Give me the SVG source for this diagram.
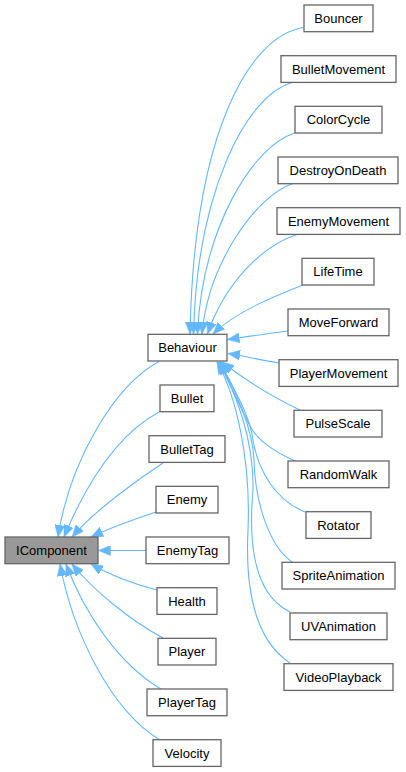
<svg xmlns="http://www.w3.org/2000/svg" width="406" height="772" viewBox="0 0 406 772">
<style>
.n rect{fill:#ffffff;stroke:#666666;stroke-width:1.3}
#IComponent rect{fill:#999999}
.n text{font-family:"Liberation Sans",Arial,Helvetica,sans-serif;font-size:13px;fill:#000000;text-anchor:middle}
.e path{fill:none;stroke:#63b8ff;stroke-width:1.1;marker-end:url(#ah)}
</style>
<defs>
<marker id="ah" markerUnits="userSpaceOnUse" markerWidth="12" markerHeight="10" viewBox="0 0 12 10" refX="12" refY="5" orient="auto">
<path d="M0,0 L12,5 L0,10 z" fill="#63b8ff" stroke="#63b8ff" stroke-width="0.5"/>
</marker>
</defs>
<rect x="0" y="0" width="406" height="772" fill="#ffffff"/>
<g id="edges" class="e">
<path d="M303.5,27.5 C250,36 194,130 190,334"/>
<path d="M292,82.5 C247,95 197,190 193.5,334"/>
<path d="M295,133 C252,146 202,230 197.5,334"/>
<path d="M293,183.5 C255,196 208,265 202,334"/>
<path d="M297,234.5 C262,246 225,283 207.5,334"/>
<path d="M303,285 C275,296 235,312 213,334"/>
<path d="M288,331 C265,334 245,337 227.5,339.5"/>
<path d="M279,363 C260,360 245,356 228,353.5"/>
<path d="M301,410.5 C275,398 245,380 222,362"/>
<path d="M295,461 C275,452 257,440 250,426 C242,410 229,385 221,362"/>
<path d="M305,512 C275,500 258,470 253,440 C250,415 233,388 220,362"/>
<path d="M292,562 C268,545 255,500 254,460 C253,430 236,390 219,362"/>
<path d="M290,612 C255,595 248,545 253,490 C254,440 236,392 218,362"/>
<path d="M290,663 C255,640 245,590 248,530 C251,460 236,395 217,362"/>
<path d="M159,361.5 C115,385 70,460 58,537"/>
<path d="M160,411.5 C125,430 92,470 64,537"/>
<path d="M163,463 C140,478 95,510 72,537"/>
<path d="M156,512 C135,519 110,528 91,537"/>
<path d="M146,550.5 L98.5,550.5"/>
<path d="M157,590 C130,583 108,574 91,564"/>
<path d="M163,638 C130,620 95,592 72,564"/>
<path d="M161,689 C120,665 85,615 66,564"/>
<path d="M160,740 C110,710 72,630 60,564"/>
</g>
<g id="IComponent" class="n"><rect x="5" y="537" width="93" height="26.7"/><text x="51.5" y="554.8">IComponent</text></g>
<g id="Behaviour" class="n"><rect x="148" y="334.3" width="79" height="26.7"/><text x="187.5" y="352.1">Behaviour</text></g>
<g id="Bullet" class="n"><rect x="160" y="385" width="54" height="26.7"/><text x="187" y="402.8">Bullet</text></g>
<g id="BulletTag" class="n"><rect x="149" y="435.7" width="76" height="26.7"/><text x="187" y="453.5">BulletTag</text></g>
<g id="Enemy" class="n"><rect x="156" y="486.3" width="62" height="26.7"/><text x="187" y="504.1">Enemy</text></g>
<g id="EnemyTag" class="n"><rect x="146" y="537" width="83" height="26.7"/><text x="187.5" y="554.8">EnemyTag</text></g>
<g id="Health" class="n"><rect x="157" y="587.7" width="60" height="26.7"/><text x="187" y="605.5">Health</text></g>
<g id="Player" class="n"><rect x="158" y="638.3" width="58" height="26.7"/><text x="187" y="656.1">Player</text></g>
<g id="PlayerTag" class="n"><rect x="147" y="689" width="80" height="26.7"/><text x="187" y="706.8">PlayerTag</text></g>
<g id="Velocity" class="n"><rect x="153" y="739.7" width="68" height="26.7"/><text x="187" y="757.5">Velocity</text></g>
<g id="Bouncer" class="n"><rect x="304" y="5" width="69" height="26.7"/><text x="338.5" y="22.8">Bouncer</text></g>
<g id="BulletMovement" class="n"><rect x="281" y="55.7" width="115" height="26.7"/><text x="338.5" y="73.5">BulletMovement</text></g>
<g id="ColorCycle" class="n"><rect x="295" y="106.3" width="87" height="26.7"/><text x="338.5" y="124.1">ColorCycle</text></g>
<g id="DestroyOnDeath" class="n"><rect x="278" y="157" width="120" height="26.7"/><text x="338" y="174.8">DestroyOnDeath</text></g>
<g id="EnemyMovement" class="n"><rect x="277" y="207.7" width="123" height="26.7"/><text x="338.5" y="225.5">EnemyMovement</text></g>
<g id="LifeTime" class="n"><rect x="302" y="258.3" width="72" height="26.7"/><text x="338" y="276.1">LifeTime</text></g>
<g id="MoveForward" class="n"><rect x="288" y="309" width="101" height="26.7"/><text x="338.5" y="326.8">MoveForward</text></g>
<g id="PlayerMovement" class="n"><rect x="279" y="359.7" width="119" height="26.7"/><text x="338.5" y="377.5">PlayerMovement</text></g>
<g id="PulseScale" class="n"><rect x="294" y="410.3" width="88" height="26.7"/><text x="338" y="428.1">PulseScale</text></g>
<g id="RandomWalk" class="n"><rect x="288" y="461" width="101" height="26.7"/><text x="338.5" y="478.8">RandomWalk</text></g>
<g id="Rotator" class="n"><rect x="306" y="511.7" width="65" height="26.7"/><text x="338.5" y="529.5">Rotator</text></g>
<g id="SpriteAnimation" class="n"><rect x="282" y="562.3" width="113" height="26.7"/><text x="338.5" y="580.1">SpriteAnimation</text></g>
<g id="UVAnimation" class="n"><rect x="290" y="613" width="97" height="26.7"/><text x="338.5" y="630.8">UVAnimation</text></g>
<g id="VideoPlayback" class="n"><rect x="284" y="663.7" width="109" height="26.7"/><text x="338.5" y="681.5">VideoPlayback</text></g>
</svg>
